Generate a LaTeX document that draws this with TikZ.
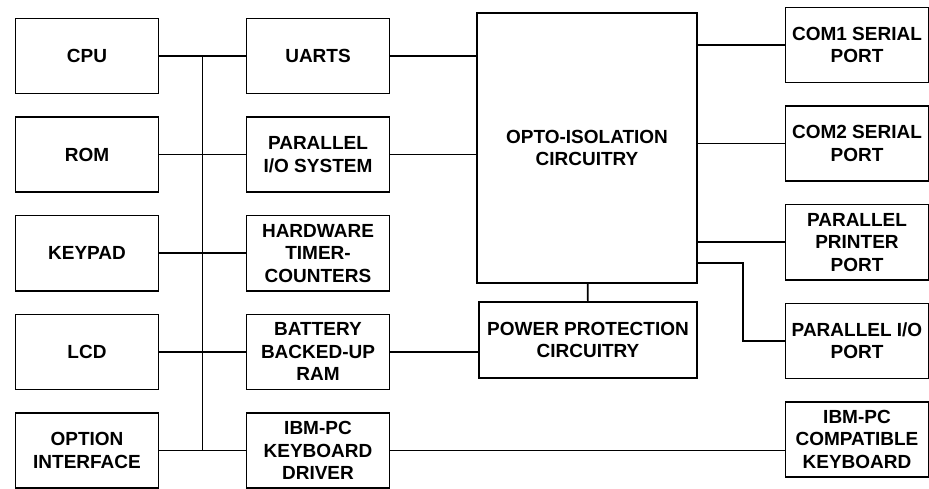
\documentclass[tikz,border=0pt]{standalone}
\usepackage{fontspec}
\setmainfont{Liberation Sans}
\usetikzlibrary{positioning, calc}
\tikzset{
    blk_unit/.style={
        rectangle,
        draw=black,
        line width=1.6pt,
        minimum width=143pt,
        minimum height=75pt,
        inner sep=2pt,
        align=center,
        font=\fontsize{19}{22.5}\selectfont\bfseries
    },
    blk_big/.style={
        blk_unit,
        minimum width=220pt,
        minimum height=270pt
    },
    blk_wide/.style={
        blk_unit,
        minimum width=218pt,
        minimum height=76pt
    },
    blk_line/.style={
        line width=1.6pt
    }
}

\begin{document}
\begin{tikzpicture}[x=1pt, y=-1pt, node distance=22pt and 3cm]

\useasboundingbox (0,0) rectangle (929,489);

% Processor side
\node[blk_unit] (CPU) at (87,56) {CPU};
\node[blk_unit, below=of CPU] (ROM) {ROM};
\node[blk_unit, below=of ROM] (Keypad) {KEYPAD};
\node[blk_unit, below=of Keypad] (LCD) {LCD};
\node[blk_unit, below=of LCD] (OptIf) {OPTION\\INTERFACE};

% Peripheral devices on the bus
\node[blk_unit] (UARTS) at (318,56) {UARTS};
\node[blk_unit, below=of UARTS] (ParSys) {PARALLEL\\I/O SYSTEM};
\node[blk_unit, below=of ParSys] (Timer) {HARDWARE\\TIMER-\\COUNTERS};
\node[blk_unit, below=of Timer] (BatRam) {BATTERY\\BACKED-UP\\RAM};
\node[blk_unit, below=of BatRam] (KbdDrv) {IBM-PC\\KEYBOARD\\DRIVER};

% Isolation and protection
\node[blk_big] (Opto) at (587,148) {OPTO-ISOLATION\\CIRCUITRY};
\node[blk_wide] (Power) at (588,340) {POWER PROTECTION\\CIRCUITRY};

% External ports
\node[blk_unit] (COM1) at (857,45) {COM1 SERIAL\\PORT};
\node[blk_unit, below=of COM1] (COM2) {COM2 SERIAL\\PORT};
\node[blk_unit, below=of COM2] (Printer) {PARALLEL\\PRINTER\\PORT};
\node[blk_unit, below=of Printer] (ParPort) {PARALLEL I/O\\PORT};
\node[blk_unit, below=of ParPort] (PCKbd) {IBM-PC\\COMPATIBLE\\KEYBOARD};

% Bus
\coordinate (BusTop) at ($(CPU.east)!0.5!(UARTS.west)$);
\draw[blk_line] (BusTop) -- (BusTop |- OptIf.east);
\draw[blk_line] (CPU) -- (UARTS);
\draw[blk_line] (ROM) -- (ParSys);
\draw[blk_line] (Keypad) -- (Timer);
\draw[blk_line] (LCD) -- (BatRam);
\draw[blk_line] (OptIf) -- (KbdDrv);

% Edges
\draw[blk_line] (UARTS.east) -- (UARTS.east -| Opto.west);
\draw[blk_line] (ParSys.east) -- (ParSys.east -| Opto.west);
\draw[blk_line] (BatRam.east) -- (BatRam.east -| Power.west);
\draw[blk_line] (Opto) -- (Power);
\draw[blk_line] (COM1.west -| Opto.east) -- (COM1.west);
\draw[blk_line] (COM2.west -| Opto.east) -- (COM2.west);
\draw[blk_line] (Printer.west -| Opto.east) -- (Printer.west);
\draw[blk_line] ([yshift=21pt]Opto.south east) -- ++(45,0) |- (ParPort.west);
\draw[blk_line] (KbdDrv.east) -- (KbdDrv.east -| PCKbd.west);

\end{tikzpicture}
\end{document}
